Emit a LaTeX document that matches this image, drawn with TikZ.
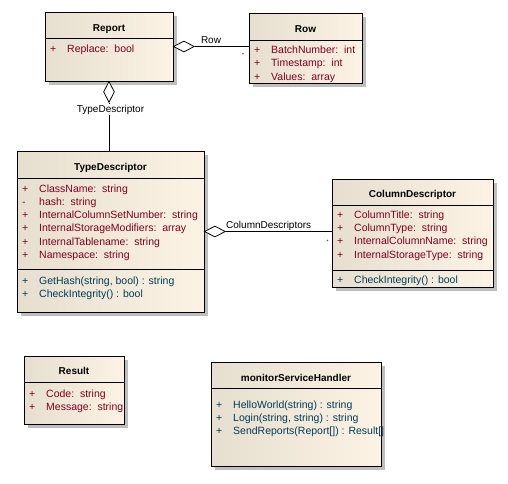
\documentclass[tikz,border=0pt]{standalone}
\usepackage{fontspec}
\setmainfont{Liberation Sans}
\usetikzlibrary{positioning}
\usetikzlibrary{shapes.geometric}
\usetikzlibrary{shadows}
\def\BoxLeft{rgb,255:red,230;green,222;blue,207}
\def\BoxRight{rgb,255:red,252;green,243;blue,228}
\def\ShadowColor{rgb,255:red,190;green,190;blue,190}
\def\AttrColor{rgb,255:red,128;green,0;blue,32}
\def\OperColor{rgb,255:red,0;green,60;blue,90}
\newcommand{\vis}[1]{\makebox[17pt][l]{#1}}

\begin{document}
\begin{tikzpicture}[x=1pt,y=-1pt]
\tikzstyle{classbox} = [rectangle, draw, line width=1pt, anchor=north west, inner sep=0pt, outer sep=0pt, left color=\BoxLeft, right color=\BoxRight, drop shadow={shadow xshift=3.5pt, shadow yshift=-3.5pt, fill=\ShadowColor, opacity=1}]
\tikzstyle{classname} = [anchor=base, inner sep=0pt, font=\bfseries\fontsize{10}{12}\selectfont]
\tikzstyle{attrs} = [anchor=north west, align=left, inner sep=0pt, text=\AttrColor, font=\fontsize{10.5}{13.2}\selectfont]
\tikzstyle{opers} = [attrs, text=\OperColor]
\tikzstyle{aggregation} = [diamond, draw, fill=white, line width=0.8pt, inner sep=0pt, minimum width=21pt, minimum height=11pt]
\tikzstyle{rolename} = [anchor=base, inner sep=0pt, font=\fontsize{10}{12}\selectfont]
\tikzstyle{mult} = [inner sep=0pt, font=\fontsize{5}{5}\selectfont]
\tikzstyle{connector} = [draw, line width=1pt]
\tikzstyle{divider} = [draw, line width=1pt]

\useasboundingbox (0,0) rectangle (508,483);

% classes
\node [classbox, minimum width=128pt, minimum height=69pt] at (45,12) (report) {};
\node [classbox, minimum width=113pt, minimum height=70pt] at (249,13) (row) {};
\node [classbox, minimum width=187pt, minimum height=161pt] at (17,151) (typedesc) {};
\node [classbox, minimum width=161pt, minimum height=108pt] at (332,179) (coldesc) {};
\node [classbox, minimum width=100pt, minimum height=68pt] at (24,356) (result) {};
\node [classbox, minimum width=170pt, minimum height=104pt] at (211,362) (handler) {};

\path [divider] (45,38) -- (173,38);
\path [divider] (249,40) -- (362,40);
\path [divider] (17,178.5) -- (204,178.5);
\path [divider] (17,269.5) -- (204,269.5);
\path [divider] (332,205) -- (493,205);
\path [divider] (332,270) -- (493,270);
\path [divider] (24,382) -- (124,382);
\path [divider] (211,388.5) -- (381,388.5);

\node [classname] at (109,31.7) (reportname) {Report};
\node [classname] at (305.5,32.3) (rowname) {Row};
\node [classname] at (110.5,170.7) (typedescname) {TypeDescriptor};
\node [classname] at (412.5,197.7) (coldescname) {ColumnDescriptor};
\node [classname] at (74,374.7) (resultname) {Result};
\node [classname] at (296,381.6) (handlername) {monitorServiceHandler};

\node [attrs] at (50,44.3) (reportattr) {\vis{+}Replace:~~bool};
\node [attrs] at (254,45.8) (rowattr) {\vis{+}BatchNumber:~~int\\ \vis{+}Timestamp:~~int\\ \vis{+}Values:~~array};
\node [attrs] at (22,184.5) (typedescattr) {\vis{+}ClassName:~~string\\ \vis{-}hash:~~string\\ \vis{+}InternalColumnSetNumber:~~string\\ \vis{+}InternalStorageModifiers:~~array\\ \vis{+}InternalTablename:~~string\\ \vis{+}Namespace:~~string};
\node [opers] at (22,276.3) (typedescoper) {\vis{+}GetHash(string, bool) : string\\ \vis{+}CheckIntegrity() : bool};
\node [attrs] at (337,210.6) (coldescattr) {\vis{+}ColumnTitle:~~string\\ \vis{+}ColumnType:~~string\\ \vis{+}InternalColumnName:~~string\\ \vis{+}InternalStorageType:~~string};
\node [opers] at (337,275.3) (coldescoper) {\vis{+}CheckIntegrity() : bool};
\node [attrs] at (29,389.3) (resultattr) {\vis{+}Code:~~string\\ \vis{+}Message:~~string};
\node [opers] at (216,400.6) (handleroper) {\vis{+}HelloWorld(string) : string\\ \vis{+}Login(string, string) : string\\ \vis{+}SendReports(Report[]) : Result[]};

% associations
\node [aggregation, anchor=west] at (report.east) (rowagg) {};
\node [aggregation, minimum width=11pt, minimum height=21pt, anchor=north] at (report.south) (typeagg) {};
\node [aggregation, anchor=west] at (typedesc.east) (colagg) {};

\path [connector] (rowagg.east) -- (rowagg.east -| row.west);
\path [connector] (typeagg.south) -- (typeagg.south |- typedesc.north);
\path [connector] (colagg.east) -- (colagg.east -| coldesc.west);

\node [rolename] at (211,43.3) (rowlabel) {Row};
\node [rolename, fill=white, inner sep=1pt] at (110.5,112) (typelabel) {TypeDescriptor};
\node [rolename] at (268.7,228) (collabel) {ColumnDescriptors};
\node [mult] at (243,55) (rowmult) {*};
\node [mult] at (327.5,241.5) (colmult) {*};

\end{tikzpicture}
\end{document}
